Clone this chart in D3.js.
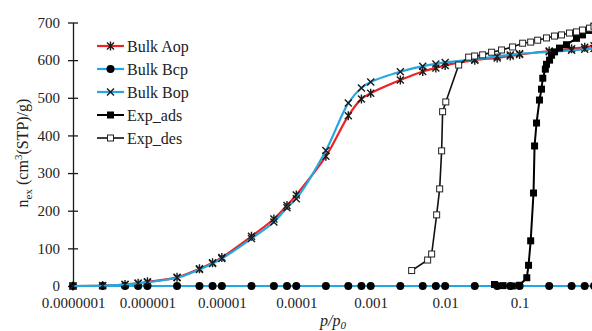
<!DOCTYPE html>
<html>
<head>
<meta charset="utf-8">
<script src="https://cdn.jsdelivr.net/npm/d3@7"></script>
<style>
  body { margin: 0; background: #fff; }
  svg { display: block; }
  text { font-family: "Liberation Serif", "Times New Roman", serif; fill: #222; }
</style>
</head>
<body>
<svg id="chart" width="592" height="331"></svg>
<script>
// simulation pressure grid (shared by the bulk series)
const simP = [1e-7, 2.5e-7, 5e-7, 7.5e-7, 1e-6, 2.5e-6, 5e-6, 7.5e-6, 1e-5, 2.5e-5, 5e-5, 7.5e-5,
  1e-4, 2.5e-4, 5e-4, 7.5e-4, 1e-3, 2.5e-3, 5e-3, 7.5e-3, 1e-2, 2.5e-2, 5e-2, 7.5e-2,
  0.1, 0.25, 0.5, 0.75, 1];
const bulkAop = [0, 1, 4, 7, 11, 23, 46, 62, 76, 132, 178, 214,
  242, 345, 452, 497, 512, 547, 570, 579, 586, 600, 606, 611,
  615, 624, 630, 634, 638];
const bulkBcp = simP.map(() => 0);
const bulkBop = [0, 1, 4, 7, 10, 22, 44, 60, 73, 126, 170, 208,
  232, 360, 486, 526, 542, 569, 584, 590, 594, 602, 610, 614,
  617, 622, 626, 629, 631];

const adsP = [0.046, 0.06, 0.08, 0.1, 0.125, 0.132, 0.141, 0.154, 0.159, 0.169, 0.185, 0.197,
  0.205, 0.222, 0.23, 0.253, 0.269, 0.295, 0.344, 0.427, 0.582, 0.7, 0.87, 1];
const adsN = [4, 1, 0, 2, 22, 55, 120, 247, 372, 433, 494, 523,
  552, 576, 589, 600, 613, 622, 632, 641, 658, 667, 679, 690];

const desP = [0.00355, 0.00582, 0.00659, 0.00769, 0.00844, 0.00897, 0.00925, 0.0102, 0.0152,
  0.0207, 0.0249, 0.0319, 0.0421, 0.0573, 0.0805, 0.11, 0.141, 0.175, 0.23, 0.295,
  0.366, 0.469, 0.582, 0.7, 0.87, 1];
const desN = [41, 69, 85, 189, 258, 359, 463, 489, 587,
  608, 611, 614, 621, 627, 635, 645, 648, 653, 659, 664,
  667, 672, 675, 680, 685, 690];

const xTicks = [1e-7, 1e-6, 1e-5, 1e-4, 1e-3, 1e-2, 1e-1, 1];
const xTickLabels = ['0.0000001', '0.000001', '0.00001', '0.0001', '0.001', '0.01', '0.1', '1'];
const yTicks = [0, 100, 200, 300, 400, 500, 600, 700];

const red = '#ee2222', blue = '#23a7e0', dark = '#1a1a1a';

const svg = d3.select('#chart');
const x = d3.scaleLog().domain([1e-7, 1]).range([73, 594]);
const y = d3.scaleLinear().domain([0, 700]).range([286, 22.5]);

// y axis with cross ticks
const yAxis = svg.append('g').attr('transform', 'translate(73,0)')
  .call(d3.axisLeft(y).tickValues(yTicks).tickSize(0).tickPadding(13));
yAxis.select('.domain').attr('stroke', dark).attr('stroke-width', 1.3);
yAxis.selectAll('.tick').append('line')
  .attr('x1', -5).attr('x2', 5).attr('stroke', dark).attr('stroke-width', 1.3);
yAxis.selectAll('text').style('font-size', '15px').style('font-family', '"Liberation Serif", serif').attr('fill', '#222');

// x axis, labels only
const xAxis = svg.append('g').attr('transform', 'translate(0,286)')
  .call(d3.axisBottom(x).tickValues(xTicks).tickSize(0).tickPadding(11)
    .tickFormat((d, i) => xTickLabels[i]));
xAxis.select('.domain').attr('stroke', dark).attr('stroke-width', 1);
xAxis.selectAll('text').style('font-size', '15px').style('font-family', '"Liberation Serif", serif').attr('fill', '#222');

// axis titles
const yt = svg.append('text').attr('transform', 'translate(28,153) rotate(-90)')
  .attr('text-anchor', 'middle').style('font-size', '16px');
yt.append('tspan').text('n');
yt.append('tspan').attr('dy', 4).style('font-size', '11px').text('ex');
yt.append('tspan').attr('dy', -4).text(' (cm');
yt.append('tspan').attr('dy', -6).style('font-size', '11px').text('3');
yt.append('tspan').attr('dy', 6).text('(STP)/g)');

const xt = svg.append('text').attr('x', 333).attr('y', 326)
  .attr('text-anchor', 'middle').style('font-size', '16px').style('font-style', 'italic');
xt.append('tspan').text('p/p');
xt.append('tspan').attr('dy', 3).style('font-size', '11px').text('0');

// marker painters
function markStar(g, s) {
  const p = `M${-s},${-s}L${s},${s}M${-s},${s}L${s},${-s}M0,${-s - 1}L0,${s + 1}`;
  g.append('path').attr('d', p).attr('stroke', dark).attr('stroke-width', 1.4).attr('fill', 'none');
}
function markX(g, s) {
  const p = `M${-s},${-s}L${s},${s}M${-s},${s}L${s},${-s}`;
  g.append('path').attr('d', p).attr('stroke', dark).attr('stroke-width', 1.4).attr('fill', 'none');
}
function markDot(g) {
  g.append('circle').attr('r', 4).attr('fill', '#000');
}
function markSq(g) {
  g.append('rect').attr('x', -3.5).attr('y', -3.5).attr('width', 7).attr('height', 7).attr('fill', '#000');
}
function markOpenSq(g) {
  g.append('rect').attr('x', -3).attr('y', -3).attr('width', 6).attr('height', 6)
    .attr('fill', '#fff').attr('stroke', '#222').attr('stroke-width', 1);
}

const series = [
  {name: 'Bulk Aop', xs: simP, ys: bulkAop, color: red, w: 2.2, smooth: true, mark: g => markStar(g, 3.5)},
  {name: 'Bulk Bcp', xs: simP, ys: bulkBcp, color: blue, w: 2.2, smooth: true, mark: markDot},
  {name: 'Bulk Bop', xs: simP, ys: bulkBop, color: blue, w: 2.2, smooth: true, mark: g => markX(g, 3.5)},
  {name: 'Exp_ads', xs: adsP, ys: adsN, color: '#000', w: 2, smooth: false, mark: markSq},
  {name: 'Exp_des', xs: desP, ys: desN, color: '#111', w: 1.6, smooth: false, mark: markOpenSq}
];

series.forEach(s => {
  const pts = s.xs.map((p, i) => [x(p), y(s.ys[i])]);
  const line = d3.line().curve(s.smooth ? d3.curveCatmullRom.alpha(0.5) : d3.curveLinear);
  svg.append('path').attr('d', line(pts)).attr('fill', 'none')
    .attr('stroke', s.color).attr('stroke-width', s.w).attr('stroke-linejoin', 'round');
  svg.append('g').selectAll('g').data(pts).enter().append('g')
    .attr('transform', d => `translate(${d[0]},${d[1]})`)
    .each(function () { s.mark(d3.select(this)); });
});

// legend
const legend = svg.append('g');
series.forEach((s, i) => {
  const ly = 46 + i * 23;
  const row = legend.append('g').attr('transform', `translate(0,${ly})`);
  row.append('line').attr('x1', 97).attr('x2', 124).attr('stroke', s.color).attr('stroke-width', s.w);
  const m = row.append('g').attr('transform', 'translate(110.5,0)');
  s.mark(m);
  row.append('text').attr('x', 127).attr('y', 5.5).style('font-size', '16px').text(s.name);
});
</script>
</body>
</html>
